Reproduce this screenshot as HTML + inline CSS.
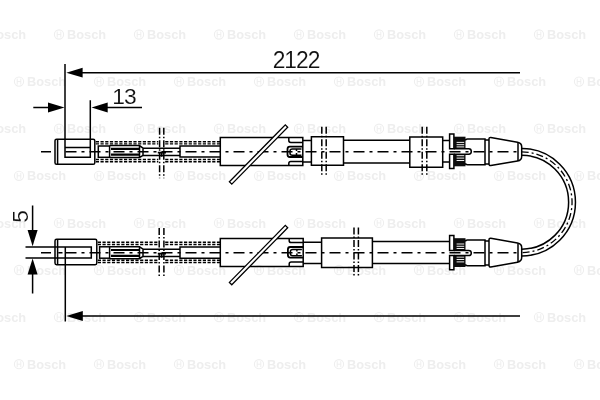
<!DOCTYPE html>
<html><head><meta charset="utf-8"><title>2122</title>
<style>
html,body{margin:0;padding:0;background:#fff;}
svg{display:block}
.ln path,.ln rect{fill:none;stroke:#000;stroke-width:1.5}
.ln .cl{stroke-dasharray:11 5 3 5;stroke-width:1.5}
.ln .ds{stroke-dasharray:3.2 1.5;stroke-width:1.4}
.ln .dd{stroke-dasharray:7 2 1.5 2;stroke-width:1.5}
.ln polygon{stroke:#000;stroke-width:1.3}
.t{font-family:"Liberation Sans",sans-serif;font-size:22.8px;letter-spacing:-1px;fill:#111;stroke:#fff;stroke-width:0.12px}
.wm{font-family:"Liberation Sans",sans-serif;font-size:12.8px;font-weight:bold;fill:#eeeeee}
</style></head><body>
<svg width="600" height="400" viewBox="0 0 600 400">
<rect width="600" height="400" fill="#fff"/>
<g id="wm" style="filter:grayscale(1)"><g transform="translate(-26.0,34.5)"><circle cx="5" cy="0" r="4.6" fill="none" stroke="#eeeeee" stroke-width="1.1"/><path d="M3.2,-3v6M6.8,-3v6M3.2,0h3.6" stroke="#eeeeee" stroke-width="1" fill="none"/><text x="13" y="4.6" class="wm">Bosch</text></g><g transform="translate(54.0,34.5)"><circle cx="5" cy="0" r="4.6" fill="none" stroke="#eeeeee" stroke-width="1.1"/><path d="M3.2,-3v6M6.8,-3v6M3.2,0h3.6" stroke="#eeeeee" stroke-width="1" fill="none"/><text x="13" y="4.6" class="wm">Bosch</text></g><g transform="translate(134.0,34.5)"><circle cx="5" cy="0" r="4.6" fill="none" stroke="#eeeeee" stroke-width="1.1"/><path d="M3.2,-3v6M6.8,-3v6M3.2,0h3.6" stroke="#eeeeee" stroke-width="1" fill="none"/><text x="13" y="4.6" class="wm">Bosch</text></g><g transform="translate(214.0,34.5)"><circle cx="5" cy="0" r="4.6" fill="none" stroke="#eeeeee" stroke-width="1.1"/><path d="M3.2,-3v6M6.8,-3v6M3.2,0h3.6" stroke="#eeeeee" stroke-width="1" fill="none"/><text x="13" y="4.6" class="wm">Bosch</text></g><g transform="translate(294.0,34.5)"><circle cx="5" cy="0" r="4.6" fill="none" stroke="#eeeeee" stroke-width="1.1"/><path d="M3.2,-3v6M6.8,-3v6M3.2,0h3.6" stroke="#eeeeee" stroke-width="1" fill="none"/><text x="13" y="4.6" class="wm">Bosch</text></g><g transform="translate(374.0,34.5)"><circle cx="5" cy="0" r="4.6" fill="none" stroke="#eeeeee" stroke-width="1.1"/><path d="M3.2,-3v6M6.8,-3v6M3.2,0h3.6" stroke="#eeeeee" stroke-width="1" fill="none"/><text x="13" y="4.6" class="wm">Bosch</text></g><g transform="translate(454.0,34.5)"><circle cx="5" cy="0" r="4.6" fill="none" stroke="#eeeeee" stroke-width="1.1"/><path d="M3.2,-3v6M6.8,-3v6M3.2,0h3.6" stroke="#eeeeee" stroke-width="1" fill="none"/><text x="13" y="4.6" class="wm">Bosch</text></g><g transform="translate(534.0,34.5)"><circle cx="5" cy="0" r="4.6" fill="none" stroke="#eeeeee" stroke-width="1.1"/><path d="M3.2,-3v6M6.8,-3v6M3.2,0h3.6" stroke="#eeeeee" stroke-width="1" fill="none"/><text x="13" y="4.6" class="wm">Bosch</text></g><g transform="translate(614.0,34.5)"><circle cx="5" cy="0" r="4.6" fill="none" stroke="#eeeeee" stroke-width="1.1"/><path d="M3.2,-3v6M6.8,-3v6M3.2,0h3.6" stroke="#eeeeee" stroke-width="1" fill="none"/><text x="13" y="4.6" class="wm">Bosch</text></g><g transform="translate(-66.0,81.6)"><circle cx="5" cy="0" r="4.6" fill="none" stroke="#eeeeee" stroke-width="1.1"/><path d="M3.2,-3v6M6.8,-3v6M3.2,0h3.6" stroke="#eeeeee" stroke-width="1" fill="none"/><text x="13" y="4.6" class="wm">Bosch</text></g><g transform="translate(14.0,81.6)"><circle cx="5" cy="0" r="4.6" fill="none" stroke="#eeeeee" stroke-width="1.1"/><path d="M3.2,-3v6M6.8,-3v6M3.2,0h3.6" stroke="#eeeeee" stroke-width="1" fill="none"/><text x="13" y="4.6" class="wm">Bosch</text></g><g transform="translate(94.0,81.6)"><circle cx="5" cy="0" r="4.6" fill="none" stroke="#eeeeee" stroke-width="1.1"/><path d="M3.2,-3v6M6.8,-3v6M3.2,0h3.6" stroke="#eeeeee" stroke-width="1" fill="none"/><text x="13" y="4.6" class="wm">Bosch</text></g><g transform="translate(174.0,81.6)"><circle cx="5" cy="0" r="4.6" fill="none" stroke="#eeeeee" stroke-width="1.1"/><path d="M3.2,-3v6M6.8,-3v6M3.2,0h3.6" stroke="#eeeeee" stroke-width="1" fill="none"/><text x="13" y="4.6" class="wm">Bosch</text></g><g transform="translate(254.0,81.6)"><circle cx="5" cy="0" r="4.6" fill="none" stroke="#eeeeee" stroke-width="1.1"/><path d="M3.2,-3v6M6.8,-3v6M3.2,0h3.6" stroke="#eeeeee" stroke-width="1" fill="none"/><text x="13" y="4.6" class="wm">Bosch</text></g><g transform="translate(334.0,81.6)"><circle cx="5" cy="0" r="4.6" fill="none" stroke="#eeeeee" stroke-width="1.1"/><path d="M3.2,-3v6M6.8,-3v6M3.2,0h3.6" stroke="#eeeeee" stroke-width="1" fill="none"/><text x="13" y="4.6" class="wm">Bosch</text></g><g transform="translate(414.0,81.6)"><circle cx="5" cy="0" r="4.6" fill="none" stroke="#eeeeee" stroke-width="1.1"/><path d="M3.2,-3v6M6.8,-3v6M3.2,0h3.6" stroke="#eeeeee" stroke-width="1" fill="none"/><text x="13" y="4.6" class="wm">Bosch</text></g><g transform="translate(494.0,81.6)"><circle cx="5" cy="0" r="4.6" fill="none" stroke="#eeeeee" stroke-width="1.1"/><path d="M3.2,-3v6M6.8,-3v6M3.2,0h3.6" stroke="#eeeeee" stroke-width="1" fill="none"/><text x="13" y="4.6" class="wm">Bosch</text></g><g transform="translate(574.0,81.6)"><circle cx="5" cy="0" r="4.6" fill="none" stroke="#eeeeee" stroke-width="1.1"/><path d="M3.2,-3v6M6.8,-3v6M3.2,0h3.6" stroke="#eeeeee" stroke-width="1" fill="none"/><text x="13" y="4.6" class="wm">Bosch</text></g><g transform="translate(-26.0,128.7)"><circle cx="5" cy="0" r="4.6" fill="none" stroke="#eeeeee" stroke-width="1.1"/><path d="M3.2,-3v6M6.8,-3v6M3.2,0h3.6" stroke="#eeeeee" stroke-width="1" fill="none"/><text x="13" y="4.6" class="wm">Bosch</text></g><g transform="translate(54.0,128.7)"><circle cx="5" cy="0" r="4.6" fill="none" stroke="#eeeeee" stroke-width="1.1"/><path d="M3.2,-3v6M6.8,-3v6M3.2,0h3.6" stroke="#eeeeee" stroke-width="1" fill="none"/><text x="13" y="4.6" class="wm">Bosch</text></g><g transform="translate(134.0,128.7)"><circle cx="5" cy="0" r="4.6" fill="none" stroke="#eeeeee" stroke-width="1.1"/><path d="M3.2,-3v6M6.8,-3v6M3.2,0h3.6" stroke="#eeeeee" stroke-width="1" fill="none"/><text x="13" y="4.6" class="wm">Bosch</text></g><g transform="translate(214.0,128.7)"><circle cx="5" cy="0" r="4.6" fill="none" stroke="#eeeeee" stroke-width="1.1"/><path d="M3.2,-3v6M6.8,-3v6M3.2,0h3.6" stroke="#eeeeee" stroke-width="1" fill="none"/><text x="13" y="4.6" class="wm">Bosch</text></g><g transform="translate(294.0,128.7)"><circle cx="5" cy="0" r="4.6" fill="none" stroke="#eeeeee" stroke-width="1.1"/><path d="M3.2,-3v6M6.8,-3v6M3.2,0h3.6" stroke="#eeeeee" stroke-width="1" fill="none"/><text x="13" y="4.6" class="wm">Bosch</text></g><g transform="translate(374.0,128.7)"><circle cx="5" cy="0" r="4.6" fill="none" stroke="#eeeeee" stroke-width="1.1"/><path d="M3.2,-3v6M6.8,-3v6M3.2,0h3.6" stroke="#eeeeee" stroke-width="1" fill="none"/><text x="13" y="4.6" class="wm">Bosch</text></g><g transform="translate(454.0,128.7)"><circle cx="5" cy="0" r="4.6" fill="none" stroke="#eeeeee" stroke-width="1.1"/><path d="M3.2,-3v6M6.8,-3v6M3.2,0h3.6" stroke="#eeeeee" stroke-width="1" fill="none"/><text x="13" y="4.6" class="wm">Bosch</text></g><g transform="translate(534.0,128.7)"><circle cx="5" cy="0" r="4.6" fill="none" stroke="#eeeeee" stroke-width="1.1"/><path d="M3.2,-3v6M6.8,-3v6M3.2,0h3.6" stroke="#eeeeee" stroke-width="1" fill="none"/><text x="13" y="4.6" class="wm">Bosch</text></g><g transform="translate(614.0,128.7)"><circle cx="5" cy="0" r="4.6" fill="none" stroke="#eeeeee" stroke-width="1.1"/><path d="M3.2,-3v6M6.8,-3v6M3.2,0h3.6" stroke="#eeeeee" stroke-width="1" fill="none"/><text x="13" y="4.6" class="wm">Bosch</text></g><g transform="translate(-66.0,175.8)"><circle cx="5" cy="0" r="4.6" fill="none" stroke="#eeeeee" stroke-width="1.1"/><path d="M3.2,-3v6M6.8,-3v6M3.2,0h3.6" stroke="#eeeeee" stroke-width="1" fill="none"/><text x="13" y="4.6" class="wm">Bosch</text></g><g transform="translate(14.0,175.8)"><circle cx="5" cy="0" r="4.6" fill="none" stroke="#eeeeee" stroke-width="1.1"/><path d="M3.2,-3v6M6.8,-3v6M3.2,0h3.6" stroke="#eeeeee" stroke-width="1" fill="none"/><text x="13" y="4.6" class="wm">Bosch</text></g><g transform="translate(94.0,175.8)"><circle cx="5" cy="0" r="4.6" fill="none" stroke="#eeeeee" stroke-width="1.1"/><path d="M3.2,-3v6M6.8,-3v6M3.2,0h3.6" stroke="#eeeeee" stroke-width="1" fill="none"/><text x="13" y="4.6" class="wm">Bosch</text></g><g transform="translate(174.0,175.8)"><circle cx="5" cy="0" r="4.6" fill="none" stroke="#eeeeee" stroke-width="1.1"/><path d="M3.2,-3v6M6.8,-3v6M3.2,0h3.6" stroke="#eeeeee" stroke-width="1" fill="none"/><text x="13" y="4.6" class="wm">Bosch</text></g><g transform="translate(254.0,175.8)"><circle cx="5" cy="0" r="4.6" fill="none" stroke="#eeeeee" stroke-width="1.1"/><path d="M3.2,-3v6M6.8,-3v6M3.2,0h3.6" stroke="#eeeeee" stroke-width="1" fill="none"/><text x="13" y="4.6" class="wm">Bosch</text></g><g transform="translate(334.0,175.8)"><circle cx="5" cy="0" r="4.6" fill="none" stroke="#eeeeee" stroke-width="1.1"/><path d="M3.2,-3v6M6.8,-3v6M3.2,0h3.6" stroke="#eeeeee" stroke-width="1" fill="none"/><text x="13" y="4.6" class="wm">Bosch</text></g><g transform="translate(414.0,175.8)"><circle cx="5" cy="0" r="4.6" fill="none" stroke="#eeeeee" stroke-width="1.1"/><path d="M3.2,-3v6M6.8,-3v6M3.2,0h3.6" stroke="#eeeeee" stroke-width="1" fill="none"/><text x="13" y="4.6" class="wm">Bosch</text></g><g transform="translate(494.0,175.8)"><circle cx="5" cy="0" r="4.6" fill="none" stroke="#eeeeee" stroke-width="1.1"/><path d="M3.2,-3v6M6.8,-3v6M3.2,0h3.6" stroke="#eeeeee" stroke-width="1" fill="none"/><text x="13" y="4.6" class="wm">Bosch</text></g><g transform="translate(574.0,175.8)"><circle cx="5" cy="0" r="4.6" fill="none" stroke="#eeeeee" stroke-width="1.1"/><path d="M3.2,-3v6M6.8,-3v6M3.2,0h3.6" stroke="#eeeeee" stroke-width="1" fill="none"/><text x="13" y="4.6" class="wm">Bosch</text></g><g transform="translate(-26.0,222.9)"><circle cx="5" cy="0" r="4.6" fill="none" stroke="#eeeeee" stroke-width="1.1"/><path d="M3.2,-3v6M6.8,-3v6M3.2,0h3.6" stroke="#eeeeee" stroke-width="1" fill="none"/><text x="13" y="4.6" class="wm">Bosch</text></g><g transform="translate(54.0,222.9)"><circle cx="5" cy="0" r="4.6" fill="none" stroke="#eeeeee" stroke-width="1.1"/><path d="M3.2,-3v6M6.8,-3v6M3.2,0h3.6" stroke="#eeeeee" stroke-width="1" fill="none"/><text x="13" y="4.6" class="wm">Bosch</text></g><g transform="translate(134.0,222.9)"><circle cx="5" cy="0" r="4.6" fill="none" stroke="#eeeeee" stroke-width="1.1"/><path d="M3.2,-3v6M6.8,-3v6M3.2,0h3.6" stroke="#eeeeee" stroke-width="1" fill="none"/><text x="13" y="4.6" class="wm">Bosch</text></g><g transform="translate(214.0,222.9)"><circle cx="5" cy="0" r="4.6" fill="none" stroke="#eeeeee" stroke-width="1.1"/><path d="M3.2,-3v6M6.8,-3v6M3.2,0h3.6" stroke="#eeeeee" stroke-width="1" fill="none"/><text x="13" y="4.6" class="wm">Bosch</text></g><g transform="translate(294.0,222.9)"><circle cx="5" cy="0" r="4.6" fill="none" stroke="#eeeeee" stroke-width="1.1"/><path d="M3.2,-3v6M6.8,-3v6M3.2,0h3.6" stroke="#eeeeee" stroke-width="1" fill="none"/><text x="13" y="4.6" class="wm">Bosch</text></g><g transform="translate(374.0,222.9)"><circle cx="5" cy="0" r="4.6" fill="none" stroke="#eeeeee" stroke-width="1.1"/><path d="M3.2,-3v6M6.8,-3v6M3.2,0h3.6" stroke="#eeeeee" stroke-width="1" fill="none"/><text x="13" y="4.6" class="wm">Bosch</text></g><g transform="translate(454.0,222.9)"><circle cx="5" cy="0" r="4.6" fill="none" stroke="#eeeeee" stroke-width="1.1"/><path d="M3.2,-3v6M6.8,-3v6M3.2,0h3.6" stroke="#eeeeee" stroke-width="1" fill="none"/><text x="13" y="4.6" class="wm">Bosch</text></g><g transform="translate(534.0,222.9)"><circle cx="5" cy="0" r="4.6" fill="none" stroke="#eeeeee" stroke-width="1.1"/><path d="M3.2,-3v6M6.8,-3v6M3.2,0h3.6" stroke="#eeeeee" stroke-width="1" fill="none"/><text x="13" y="4.6" class="wm">Bosch</text></g><g transform="translate(614.0,222.9)"><circle cx="5" cy="0" r="4.6" fill="none" stroke="#eeeeee" stroke-width="1.1"/><path d="M3.2,-3v6M6.8,-3v6M3.2,0h3.6" stroke="#eeeeee" stroke-width="1" fill="none"/><text x="13" y="4.6" class="wm">Bosch</text></g><g transform="translate(-66.0,270.0)"><circle cx="5" cy="0" r="4.6" fill="none" stroke="#eeeeee" stroke-width="1.1"/><path d="M3.2,-3v6M6.8,-3v6M3.2,0h3.6" stroke="#eeeeee" stroke-width="1" fill="none"/><text x="13" y="4.6" class="wm">Bosch</text></g><g transform="translate(14.0,270.0)"><circle cx="5" cy="0" r="4.6" fill="none" stroke="#eeeeee" stroke-width="1.1"/><path d="M3.2,-3v6M6.8,-3v6M3.2,0h3.6" stroke="#eeeeee" stroke-width="1" fill="none"/><text x="13" y="4.6" class="wm">Bosch</text></g><g transform="translate(94.0,270.0)"><circle cx="5" cy="0" r="4.6" fill="none" stroke="#eeeeee" stroke-width="1.1"/><path d="M3.2,-3v6M6.8,-3v6M3.2,0h3.6" stroke="#eeeeee" stroke-width="1" fill="none"/><text x="13" y="4.6" class="wm">Bosch</text></g><g transform="translate(174.0,270.0)"><circle cx="5" cy="0" r="4.6" fill="none" stroke="#eeeeee" stroke-width="1.1"/><path d="M3.2,-3v6M6.8,-3v6M3.2,0h3.6" stroke="#eeeeee" stroke-width="1" fill="none"/><text x="13" y="4.6" class="wm">Bosch</text></g><g transform="translate(254.0,270.0)"><circle cx="5" cy="0" r="4.6" fill="none" stroke="#eeeeee" stroke-width="1.1"/><path d="M3.2,-3v6M6.8,-3v6M3.2,0h3.6" stroke="#eeeeee" stroke-width="1" fill="none"/><text x="13" y="4.6" class="wm">Bosch</text></g><g transform="translate(334.0,270.0)"><circle cx="5" cy="0" r="4.6" fill="none" stroke="#eeeeee" stroke-width="1.1"/><path d="M3.2,-3v6M6.8,-3v6M3.2,0h3.6" stroke="#eeeeee" stroke-width="1" fill="none"/><text x="13" y="4.6" class="wm">Bosch</text></g><g transform="translate(414.0,270.0)"><circle cx="5" cy="0" r="4.6" fill="none" stroke="#eeeeee" stroke-width="1.1"/><path d="M3.2,-3v6M6.8,-3v6M3.2,0h3.6" stroke="#eeeeee" stroke-width="1" fill="none"/><text x="13" y="4.6" class="wm">Bosch</text></g><g transform="translate(494.0,270.0)"><circle cx="5" cy="0" r="4.6" fill="none" stroke="#eeeeee" stroke-width="1.1"/><path d="M3.2,-3v6M6.8,-3v6M3.2,0h3.6" stroke="#eeeeee" stroke-width="1" fill="none"/><text x="13" y="4.6" class="wm">Bosch</text></g><g transform="translate(574.0,270.0)"><circle cx="5" cy="0" r="4.6" fill="none" stroke="#eeeeee" stroke-width="1.1"/><path d="M3.2,-3v6M6.8,-3v6M3.2,0h3.6" stroke="#eeeeee" stroke-width="1" fill="none"/><text x="13" y="4.6" class="wm">Bosch</text></g><g transform="translate(-26.0,317.1)"><circle cx="5" cy="0" r="4.6" fill="none" stroke="#eeeeee" stroke-width="1.1"/><path d="M3.2,-3v6M6.8,-3v6M3.2,0h3.6" stroke="#eeeeee" stroke-width="1" fill="none"/><text x="13" y="4.6" class="wm">Bosch</text></g><g transform="translate(54.0,317.1)"><circle cx="5" cy="0" r="4.6" fill="none" stroke="#eeeeee" stroke-width="1.1"/><path d="M3.2,-3v6M6.8,-3v6M3.2,0h3.6" stroke="#eeeeee" stroke-width="1" fill="none"/><text x="13" y="4.6" class="wm">Bosch</text></g><g transform="translate(134.0,317.1)"><circle cx="5" cy="0" r="4.6" fill="none" stroke="#eeeeee" stroke-width="1.1"/><path d="M3.2,-3v6M6.8,-3v6M3.2,0h3.6" stroke="#eeeeee" stroke-width="1" fill="none"/><text x="13" y="4.6" class="wm">Bosch</text></g><g transform="translate(214.0,317.1)"><circle cx="5" cy="0" r="4.6" fill="none" stroke="#eeeeee" stroke-width="1.1"/><path d="M3.2,-3v6M6.8,-3v6M3.2,0h3.6" stroke="#eeeeee" stroke-width="1" fill="none"/><text x="13" y="4.6" class="wm">Bosch</text></g><g transform="translate(294.0,317.1)"><circle cx="5" cy="0" r="4.6" fill="none" stroke="#eeeeee" stroke-width="1.1"/><path d="M3.2,-3v6M6.8,-3v6M3.2,0h3.6" stroke="#eeeeee" stroke-width="1" fill="none"/><text x="13" y="4.6" class="wm">Bosch</text></g><g transform="translate(374.0,317.1)"><circle cx="5" cy="0" r="4.6" fill="none" stroke="#eeeeee" stroke-width="1.1"/><path d="M3.2,-3v6M6.8,-3v6M3.2,0h3.6" stroke="#eeeeee" stroke-width="1" fill="none"/><text x="13" y="4.6" class="wm">Bosch</text></g><g transform="translate(454.0,317.1)"><circle cx="5" cy="0" r="4.6" fill="none" stroke="#eeeeee" stroke-width="1.1"/><path d="M3.2,-3v6M6.8,-3v6M3.2,0h3.6" stroke="#eeeeee" stroke-width="1" fill="none"/><text x="13" y="4.6" class="wm">Bosch</text></g><g transform="translate(534.0,317.1)"><circle cx="5" cy="0" r="4.6" fill="none" stroke="#eeeeee" stroke-width="1.1"/><path d="M3.2,-3v6M6.8,-3v6M3.2,0h3.6" stroke="#eeeeee" stroke-width="1" fill="none"/><text x="13" y="4.6" class="wm">Bosch</text></g><g transform="translate(614.0,317.1)"><circle cx="5" cy="0" r="4.6" fill="none" stroke="#eeeeee" stroke-width="1.1"/><path d="M3.2,-3v6M6.8,-3v6M3.2,0h3.6" stroke="#eeeeee" stroke-width="1" fill="none"/><text x="13" y="4.6" class="wm">Bosch</text></g><g transform="translate(-66.0,364.2)"><circle cx="5" cy="0" r="4.6" fill="none" stroke="#eeeeee" stroke-width="1.1"/><path d="M3.2,-3v6M6.8,-3v6M3.2,0h3.6" stroke="#eeeeee" stroke-width="1" fill="none"/><text x="13" y="4.6" class="wm">Bosch</text></g><g transform="translate(14.0,364.2)"><circle cx="5" cy="0" r="4.6" fill="none" stroke="#eeeeee" stroke-width="1.1"/><path d="M3.2,-3v6M6.8,-3v6M3.2,0h3.6" stroke="#eeeeee" stroke-width="1" fill="none"/><text x="13" y="4.6" class="wm">Bosch</text></g><g transform="translate(94.0,364.2)"><circle cx="5" cy="0" r="4.6" fill="none" stroke="#eeeeee" stroke-width="1.1"/><path d="M3.2,-3v6M6.8,-3v6M3.2,0h3.6" stroke="#eeeeee" stroke-width="1" fill="none"/><text x="13" y="4.6" class="wm">Bosch</text></g><g transform="translate(174.0,364.2)"><circle cx="5" cy="0" r="4.6" fill="none" stroke="#eeeeee" stroke-width="1.1"/><path d="M3.2,-3v6M6.8,-3v6M3.2,0h3.6" stroke="#eeeeee" stroke-width="1" fill="none"/><text x="13" y="4.6" class="wm">Bosch</text></g><g transform="translate(254.0,364.2)"><circle cx="5" cy="0" r="4.6" fill="none" stroke="#eeeeee" stroke-width="1.1"/><path d="M3.2,-3v6M6.8,-3v6M3.2,0h3.6" stroke="#eeeeee" stroke-width="1" fill="none"/><text x="13" y="4.6" class="wm">Bosch</text></g><g transform="translate(334.0,364.2)"><circle cx="5" cy="0" r="4.6" fill="none" stroke="#eeeeee" stroke-width="1.1"/><path d="M3.2,-3v6M6.8,-3v6M3.2,0h3.6" stroke="#eeeeee" stroke-width="1" fill="none"/><text x="13" y="4.6" class="wm">Bosch</text></g><g transform="translate(414.0,364.2)"><circle cx="5" cy="0" r="4.6" fill="none" stroke="#eeeeee" stroke-width="1.1"/><path d="M3.2,-3v6M6.8,-3v6M3.2,0h3.6" stroke="#eeeeee" stroke-width="1" fill="none"/><text x="13" y="4.6" class="wm">Bosch</text></g><g transform="translate(494.0,364.2)"><circle cx="5" cy="0" r="4.6" fill="none" stroke="#eeeeee" stroke-width="1.1"/><path d="M3.2,-3v6M6.8,-3v6M3.2,0h3.6" stroke="#eeeeee" stroke-width="1" fill="none"/><text x="13" y="4.6" class="wm">Bosch</text></g><g transform="translate(574.0,364.2)"><circle cx="5" cy="0" r="4.6" fill="none" stroke="#eeeeee" stroke-width="1.1"/><path d="M3.2,-3v6M6.8,-3v6M3.2,0h3.6" stroke="#eeeeee" stroke-width="1" fill="none"/><text x="13" y="4.6" class="wm">Bosch</text></g></g>
<g class="ln">
<path d="M41,151.8H51M65.5,151.8H522" class="cl"/><rect x="55" y="139.2" width="39.8" height="25.1" rx="1.6"/><path d="M57.6,139.2V164.3" /><path d="M95.8,141.7H158.3M165.2,141.7H220" class="ds"/><path d="M95.8,143.9H158.3M165.2,143.9H220" class="ds"/><path d="M95.8,159.5H158.3M165.2,159.5H220" class="ds"/><path d="M95.8,161.7H158.3M165.2,161.7H220" class="ds"/><rect x="98.3" y="146.0" width="11.3" height="11.3"/><path d="M109.6,145.60H139.5L143,148.10M109.6,157.60H139.5L143,155.30M139.5,145.60V157.60" /><path d="M111,148.90H139M111,154.70H139" style="stroke-width:2.2"/><path d="M143,148.20H180M143,155.40H180M143,148.20V155.40" /><path d="M157.8,152.60H166M161.6,152.60V156.70" style="stroke-width:1.8"/><path d="M220.3,145.90H180V157.10H220.3" /><path d="M159.6,127.8V178.2M163.8,127.8V178.2" class="dd"/><path d="M220.3,137.5H302.8V165.5H220.3Z" /><path d="M288.8,137.5V140.60Q288.8,142.5 290.8,142.5H302.8" /><path d="M288.8,165.5V163.50Q288.8,161.6 290.8,161.6H302.8" /><path d="M302.8,146.6H289.8Q287.5,146.6 287.5,149.10V154.50Q287.5,157.0 289.8,157.0H302.8" style="stroke-width:1.8"/><path d="M301.5,148.90H292.4Q290.0,148.90 290.0,150.90V153.30Q290.0,155.30 292.4,155.30H301.5M296.5,148.90V151.10M296.5,153.10V155.30" /><polygon points="231.8,184.1 287.7,127.2 285.3,124.8 229.4,181.7" style="fill:#fff"/><path d="M302.8,140.6H311.4M302.8,162.0H311.4" /><path d="M311.4,136.8H343.5V165.2H311.4Z" /><path d="M321.8,126.8V176.6M326.2,126.8V176.6" class="dd"/><path d="M343.5,140.3H409.8M343.5,163.0H409.8" /><path d="M409.8,136.9H442.7V167.2H409.8Z" /><path d="M422.2,126.8V176.3M426.8,126.8V176.3" class="dd"/><path d="M442.7,140.6H449.6M442.7,162.0H449.6" /><path d="M449.6,134.0H453.9V148.8H449.6ZM449.6,168.6H453.9V154.2H449.6Z" /><rect x="453.9" y="136.7" width="11.6" height="12.10" style="fill:#0c0c0c;stroke:none"/><rect x="453.9" y="154.2" width="11.6" height="12.10" style="fill:#0c0c0c;stroke:none"/><path d="M456.6,142.4H464.2M456.6,144.7H464.2M456.6,146.9H464.2M456.6,155.7H464.2M456.6,158.1H464.2M456.6,160.5H464.2" style="stroke:#eee;stroke-width:1"/><path d="M453.9,148.8H468.7Q471.3,148.8 471.3,151.5Q471.3,154.2 468.7,154.2H453.9" /><path d="M465.5,140.60Q465.5,139.1 467.5,139.1H485V164.7H467.5Q465.5,164.7 465.5,163.20" /><path d="M485,139.9H489M485,164.0H489" /><path d="M489,139.00Q489,137.20 490.8,137.4L517.5,142.2Q521.7,143.00 521.7,146.80V156.50Q521.7,160.30 517.5,161.1L490.8,165.6Q489,165.80 489,164.00Z" /><path d="M518,142.40V160.90" />
<path d="M41,252.8H51M58.3,252.8H62.5M65.5,252.8H522" class="cl"/><rect x="55" y="239.3" width="41.8" height="25.4" rx="1.6"/><path d="M57.6,239.3V264.7" /><path d="M97.8,242.3H158.3M165.2,242.3H220" class="ds"/><path d="M97.8,244.5H158.3M165.2,244.5H220" class="ds"/><path d="M97.8,260.3H158.3M165.2,260.3H220" class="ds"/><path d="M97.8,262.5H158.3M165.2,262.5H220" class="ds"/><rect x="99.6" y="246.8" width="10.0" height="11.4"/><path d="M109.6,246.70H139.5L143,249.20M109.6,258.70H139.5L143,256.40M139.5,246.70V258.70" /><path d="M111,250.00H139M111,255.80H139" style="stroke-width:2.2"/><path d="M143,249.30H180M143,256.50H180M143,249.30V256.50" /><path d="M157.8,253.70H166M161.6,253.70V257.80" style="stroke-width:1.8"/><path d="M220.3,247.00H180V258.20H220.3" /><path d="M159.2,228.0V277.8M163.9,228.0V277.8" class="dd"/><path d="M220.3,238.4H303.2V266.6H220.3Z" /><path d="M289.2,238.4V240.70Q289.2,242.6 291.2,242.6H303.2" /><path d="M289.2,266.6V263.90Q289.2,262.0 291.2,262.0H303.2" /><path d="M303.2,247.0H290.2Q287.9,247.0 287.9,249.50V255.10Q287.9,257.6 290.2,257.6H303.2" style="stroke-width:1.8"/><path d="M301.9,249.40H292.8Q290.4,249.40 290.4,251.40V253.80Q290.4,255.80 292.8,255.80H301.9M296.9,249.40V251.60M296.9,253.60V255.80" /><polygon points="231.8,284.8 287.7,227.8 285.3,225.4 229.4,282.4" style="fill:#fff"/><path d="M303.2,242.2H321.6M303.2,263.5H321.6" /><path d="M321.6,237.9H372.4V267.4H321.6Z" /><path d="M354.0,227.5V277.5M358.4,227.5V277.5" class="dd"/><path d="M372.4,241.6H449.6M372.4,263.6H449.6" /><path d="M449.6,235.5H453.9V250.4H449.6ZM449.6,269.7H453.9V255.6H449.6Z" /><rect x="453.9" y="238.2" width="11.6" height="12.20" style="fill:#0c0c0c;stroke:none"/><rect x="453.9" y="255.6" width="11.6" height="11.40" style="fill:#0c0c0c;stroke:none"/><path d="M456.6,244.0H464.2M456.6,246.3H464.2M456.6,248.5H464.2M456.6,257.1H464.2M456.6,259.5H464.2M456.6,261.9H464.2" style="stroke:#eee;stroke-width:1"/><path d="M453.9,250.4H468.7Q471.3,250.4 471.3,253.0Q471.3,255.6 468.7,255.6H453.9" /><path d="M465.5,241.60Q465.5,240.1 467.5,240.1H485V265.7H467.5Q465.5,265.7 465.5,264.20" /><path d="M485,240.9H489M485,265.0H489" /><path d="M489,239.90Q489,238.10 490.8,238.3L517.5,243.0Q521.7,243.80 521.7,247.60V257.60Q521.7,261.40 517.5,262.2L490.8,266.9Q489,267.10 489,265.30Z" /><path d="M518,243.20V262.00" />
<path d="M521.7,148.45A53.75,53.75 0 0 1 521.7,255.95M521.7,155.25A46.95,46.95 0 0 1 521.7,249.14999999999998"/>
<path d="M521.7,151.85A50.35,50.35 0 0 1 521.7,252.54999999999998" class="cl" style="stroke-dasharray:7 3 2 3;stroke-width:1.3"/>
<path d="M65,64V157.3H90.3V100.2M65,147.5H90.3"/>
<path d="M25.5,246.9H91.3V258H25.5M65.3,246.9V321.5"/>
<path d="M80,72.7H520M105,107.5H142M33.3,107.5H50M80,316H520M32.6,205.6V232M32.6,272V293.6"/>
</g>
<g fill="#000">
<polygon points="66.3,72.7 82.6,67.8 82.6,77.6"/>
<polygon points="91.5,107.5 107.7,102.4 107.7,112.6"/>
<polygon points="64.5,107.5 48,102.4 48,112.6"/>
<polygon points="66.3,316 82.8,311.1 82.8,320.9"/>
<polygon points="32.6,246.3 27.6,230 37.6,230"/>
<polygon points="32.6,258.5 27.6,274.5 37.6,274.5"/>
</g>
<g style="filter:grayscale(1)">
<text transform="translate(296.0,68) scale(1,1.06)" class="t" text-anchor="middle">2122</text>
<text transform="translate(123.9,103.8) scale(1,1.0)" class="t" text-anchor="middle">13</text>
<text transform="translate(28,217) rotate(-90)" class="t" text-anchor="middle">5</text>
</g>
</svg>
</body></html>
